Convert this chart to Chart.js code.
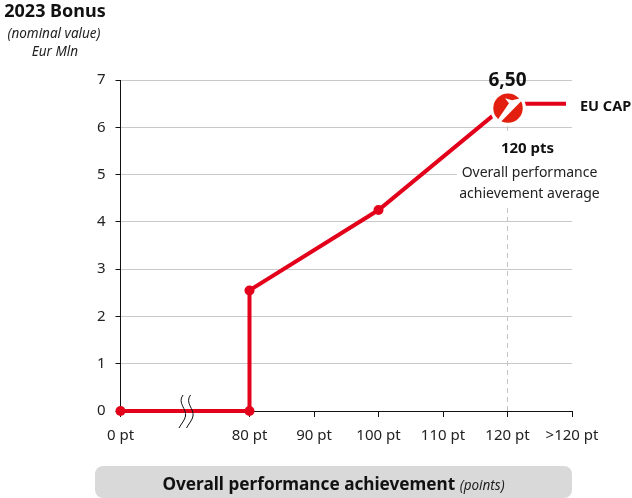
<!DOCTYPE html>
<html><head><meta charset="utf-8">
<script src="https://cdn.jsdelivr.net/npm/chart.js@4"></script>
<style>html,body{margin:0;padding:0;background:#fff}#w{position:relative;width:632px;height:498px}canvas{display:block}</style>
</head><body><div id="w"><canvas id="c" width="632" height="498"></canvas></div>
<script>
const categories=['0 pt','','80 pt','90 pt','100 pt','110 pt','120 pt','>120 pt'];
const yTicks=[0,1,2,3,4,5,6,7];
const pointLabels=['0 pt','80 pt','80 pt','100 pt','120 pt'];
const bonusValues=[0,0,2.55,4.25,6.5];
const capLevel=6.5;
const capLabel='6,50';
const FONT='"Noto Sans"';
const RED='#e2001a';
Chart.defaults.font.family=FONT;

const extras={id:'extras',
 beforeDatasetsDraw(ch){
  const {ctx}=ch,xs=ch.scales.x,ys=ch.scales.y;
  const xc=xs.getPixelForValue(6);
  ctx.save();
  ctx.fillStyle='#fff';
  ctx.fillRect(457,134,ch.chartArea.right-457+1,70);
  ctx.strokeStyle='#c4c4c4';ctx.lineWidth=1;ctx.setLineDash([5,4]);
  ctx.beginPath();ctx.moveTo(Math.floor(xc)+.5,ys.getPixelForValue(0));ctx.lineTo(Math.floor(xc)+.5,206);ctx.stroke();
  ctx.setLineDash([]);
  ctx.beginPath();ctx.moveTo(Math.floor(xc)+.5,125);ctx.lineTo(Math.floor(xc)+.5,131);ctx.stroke();
  ctx.restore();
 },
 afterDatasetsDraw(ch){
  const {ctx}=ch,xs=ch.scales.x,ys=ch.scales.y;
  const xc=xs.getPixelForValue(6),yc=ys.getPixelForValue(capLevel);
  const y0=ys.getPixelForValue(0);
  const lx=xc+.5,ly=yc+4.5;
  ctx.save();
  ctx.strokeStyle=RED;ctx.lineWidth=4;
  ctx.beginPath();ctx.moveTo(xc+16.5,yc);ctx.lineTo(xc+58.5,yc);ctx.stroke();
  ctx.fillStyle='#fff';ctx.beginPath();ctx.arc(lx,ly,18,0,Math.PI*2);ctx.fill();
  ctx.fillStyle='#e3200f';ctx.beginPath();ctx.arc(lx,ly,14.7,0,Math.PI*2);ctx.fill();
  ctx.fillStyle='#fff';ctx.beginPath();
  ctx.moveTo(lx-12,ly+14);ctx.lineTo(lx-9,ly+15.5);ctx.lineTo(lx+17,ly-11);ctx.lineTo(lx+4,ly-8);ctx.lineTo(lx-3,ly-10);
  ctx.lineTo(lx+1,ly-5);ctx.closePath();ctx.fill();
  // axis break
  const bx=xs.getPixelForValue(1);
  ctx.strokeStyle='#111';ctx.lineWidth=1;
  [0,7.5].forEach(d=>{ctx.beginPath();ctx.moveTo(bx+d-2,y0-16);
   ctx.bezierCurveTo(bx+d-8,y0-8,bx+d+2,y0-2,bx+d+.5,y0+5);
   ctx.bezierCurveTo(bx+d,y0+9,bx+d-4,y0+13,bx+d-6,y0+17);ctx.stroke();});
  // texts
  ctx.fillStyle='#111';ctx.textAlign='center';ctx.textBaseline='alphabetic';
  ctx.font='bold 19px '+FONT;ctx.fillText(capLabel,xc,86);
  ctx.font='bold 15px '+FONT;ctx.fillText('120 pts',xc+20,153);
  ctx.font='14px '+FONT;ctx.fillStyle='#222';
  ctx.fillText('Overall performance',xc+22,177);
  ctx.fillText('achievement average',xc+22,198);
  ctx.fillStyle='#111';
  ctx.textAlign='left';ctx.font='bold 14.5px '+FONT;ctx.fillText('EU CAP',580,111);
  ctx.textAlign='center';
  ctx.font='bold 18px '+FONT;ctx.fillText('2023 Bonus',55,17);
  ctx.fillStyle='#222';
  ctx.font='italic 13.5px '+FONT;ctx.fillText('(nominal value)',54,38);
  ctx.fillText('Eur Mln',55,56);
  ctx.fillStyle='#d9d9d9';ctx.beginPath();ctx.roundRect(95,466,477,32,8);ctx.fill();
  ctx.fillStyle='#111';
  ctx.textAlign='left';
  const a='Overall performance achievement ',b='(points)';
  ctx.font='bold 17.2px '+FONT;const wa=ctx.measureText(a).width;
  ctx.font='italic 13.5px '+FONT;const wb=ctx.measureText(b).width;
  const sx=333.5-(wa+wb)/2;
  ctx.font='bold 17.2px '+FONT;ctx.fillText(a,sx,490);
  ctx.font='italic 13.5px '+FONT;ctx.fillStyle='#222';ctx.fillText(b,sx+wa,490);
  ctx.restore();
 }};

new Chart(document.getElementById('c'),{
 type:'line',
 data:{labels:categories,datasets:[
  {label:'Bonus',
   data:pointLabels.map((x,i)=>({x,y:bonusValues[i]})),
   borderColor:RED,backgroundColor:RED,borderWidth:4,tension:0,
   pointRadius:ctx=>ctx.dataIndex===4?0:5,pointHoverRadius:5,
   pointBackgroundColor:RED,pointBorderWidth:0,clip:false}
 ]},
 options:{responsive:false,animation:false,
  layout:{padding:{left:0,right:60,top:80,bottom:46}},
  plugins:{legend:{display:false},tooltip:{enabled:false}},
  scales:{
   x:{type:'category',offset:false,
    afterFit(a){a.height=41;a.paddingLeft=0;a.paddingRight=0;},
    grid:{display:true,drawOnChartArea:false,drawTicks:true,tickLength:6,tickColor:c=>c.index===1?'rgba(0,0,0,0)':'#111',lineWidth:1},
    border:{display:true,color:'#111',width:1},
    ticks:{color:'#222',font:{size:15},padding:10,maxRotation:0,autoSkip:false}},
   y:{min:0,max:7,
    afterBuildTicks(a){a.ticks=yTicks.map(v=>({value:v}));},
    afterFit(a){a.width=120.5;a.paddingTop=0;a.paddingBottom=0;},
    grid:{color:c=>c.tick.value===0?'rgba(0,0,0,0)':'#c9c9c9',tickColor:'#111',tickLength:5,lineWidth:1},
    border:{display:true,color:'#111',width:1},
    ticks:{color:'#222',font:{size:15},padding:10}}
  }},
 plugins:[extras]
});
</script></body></html>
